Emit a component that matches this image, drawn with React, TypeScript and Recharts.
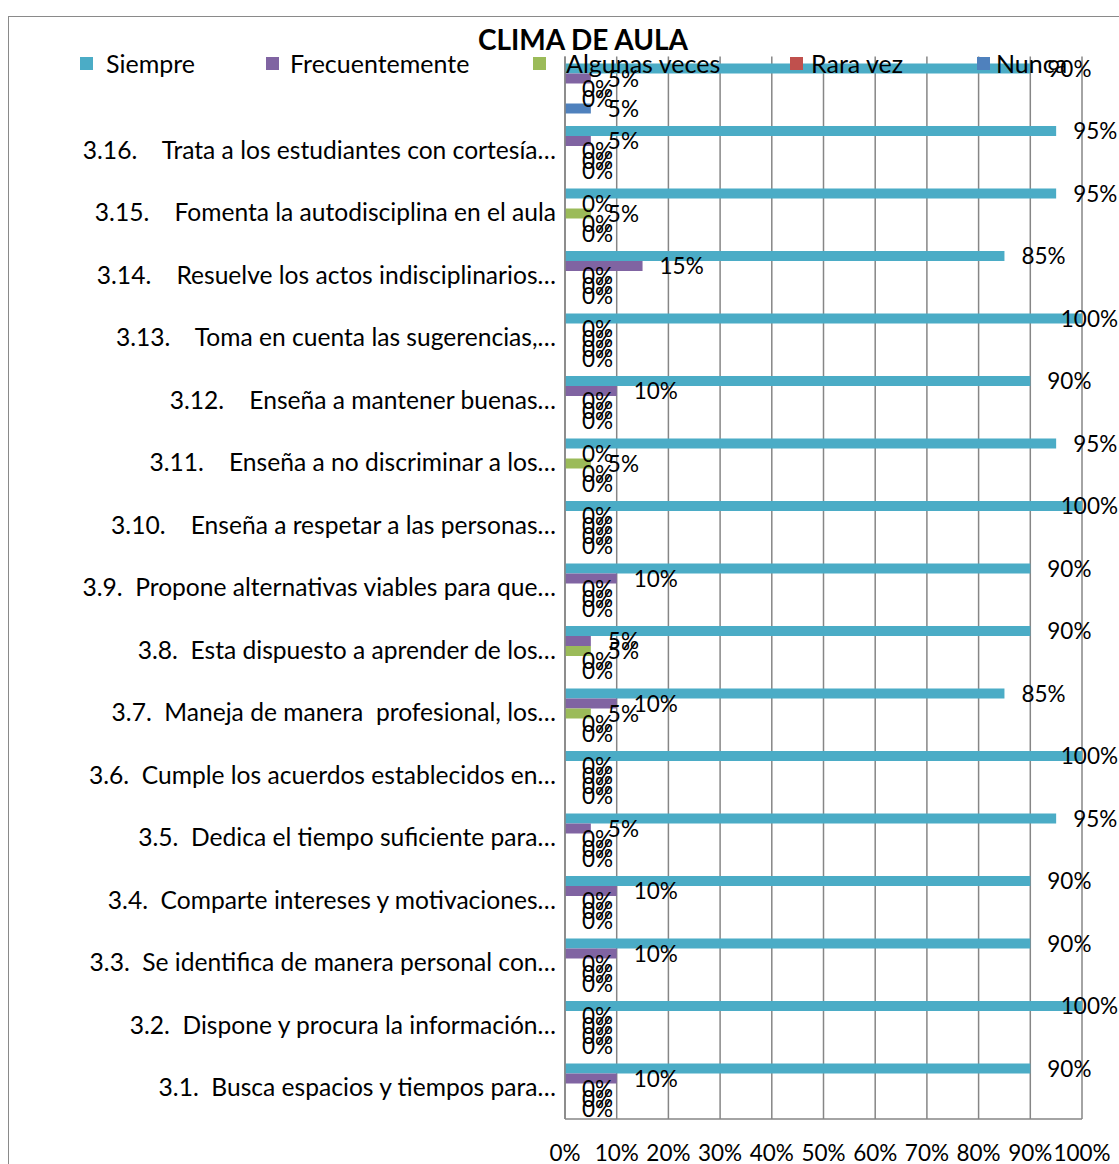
import React from "react";
import { BarChart, Bar, XAxis, YAxis, CartesianGrid, LabelList } from "recharts";

const categories = [
  "",
  "3.16.    Trata a los estudiantes con cortesía…",
  "3.15.    Fomenta la autodisciplina en el aula",
  "3.14.    Resuelve los actos indisciplinarios…",
  "3.13.    Toma en cuenta las sugerencias,…",
  "3.12.    Enseña a mantener buenas…",
  "3.11.    Enseña a no discriminar a los…",
  "3.10.    Enseña a respetar a las personas…",
  "3.9.  Propone alternativas viables para que…",
  "3.8.  Esta dispuesto a aprender de los…",
  "3.7.  Maneja de manera  profesional, los…",
  "3.6.  Cumple los acuerdos establecidos en…",
  "3.5.  Dedica el tiempo suficiente para…",
  "3.4.  Comparte intereses y motivaciones…",
  "3.3.  Se identifica de manera personal con…",
  "3.2.  Dispone y procura la información…",
  "3.1.  Busca espacios y tiempos para…",
];

const siempre = [90, 95, 95, 85, 100, 90, 95, 100, 90, 90, 85, 100, 95, 90, 90, 100, 90];
const frecuentemente = [5, 5, 0, 15, 0, 10, 0, 0, 10, 5, 10, 0, 5, 10, 10, 0, 10];
const algunasVeces = [0, 0, 5, 0, 0, 0, 5, 0, 0, 5, 5, 0, 0, 0, 0, 0, 0];
const raraVez = [0, 0, 0, 0, 0, 0, 0, 0, 0, 0, 0, 0, 0, 0, 0, 0, 0];
const nunca = [5, 0, 0, 0, 0, 0, 0, 0, 0, 0, 0, 0, 0, 0, 0, 0, 0];

const xTicks = [0, 10, 20, 30, 40, 50, 60, 70, 80, 90, 100];

const seriesDefs = [
  { key: "siempre", name: "Siempre", color: "#4BACC6" },
  { key: "frecuentemente", name: "Frecuentemente", color: "#8064A2" },
  { key: "algunas", name: "Algunas veces", color: "#9BBB59" },
  { key: "rara", name: "Rara vez", color: "#C0504D" },
  { key: "nunca", name: "Nunca", color: "#4F81BD" },
];

const data = categories.map((c, i) => ({
  cat: c,
  idx: String(i),
  siempre: siempre[i],
  frecuentemente: frecuentemente[i],
  algunas: algunasVeces[i],
  rara: raraVez[i],
  nunca: nunca[i],
}));

const FONT = "Lato, 'Open Sans', sans-serif";
const FS = 22.5;
const CAT_FS = 24.6;
const CHART_W = 1119;

const CatTick = (props: any) => {
  const { x, y, payload } = props;
  const label = categories[Number(payload.value)];
  return (
    <text
      x={x}
      y={y}
      dy={8.5}
      textAnchor="end"
      fontFamily={FONT}
      fontSize={CAT_FS}
      fill="#000"
      style={{ whiteSpace: "pre" }}
      xmlSpace="preserve"
    >
      {label}
    </text>
  );
};

const ValueLabel = (props: any) => {
  const { x, y, width, height, value } = props;
  const w = Math.max(0, Number(width));
  const text = `${value}%`;
  const estWidth = text.length * FS * 0.58;
  let px = Number(x) + w + 17;
  let anchor: "start" | "end" = "start";
  if (px + estWidth > CHART_W - 1) {
    px = CHART_W - 1;
    anchor = "end";
  }
  const py = Number(y) + Number(height) / 2;
  return (
    <text x={px} y={py} dy={8} textAnchor={anchor} fontFamily={FONT} fontSize={FS} fill="#000">
      {text}
    </text>
  );
};

const legendWidths = [186, 267, 257, 187, 120];
const legendGaps = [13, 11, 20, 8, 6];

export default function App() {
  return (
    <div style={{ position: "absolute", left: 0, top: 0, width: CHART_W, height: 1164, background: "#fff", overflow: "hidden" }}>
      <div
        style={{
          position: "absolute",
          left: 8,
          top: 16,
          width: 1200,
          height: 1200,
          borderLeft: "1.5px solid #8a8a8a",
          borderTop: "1.5px solid #8a8a8a",
        }}
      />
      <div style={{ position: "absolute", left: 0, top: 0 }}>
        <BarChart
          width={CHART_W}
          height={1164}
          data={data}
          layout="vertical"
          margin={{ top: 56.5, right: 37, bottom: 15, left: 0 }}
          barCategoryGap={7}
          barGap={0}
        >
          <CartesianGrid horizontal={false} vertical={true} stroke="#868686" strokeWidth={1.5} />
          <XAxis
            type="number"
            domain={[0, 100]}
            ticks={xTicks}
            height={30}
            tickFormatter={(v: number) => `${v}%`}
            axisLine={{ stroke: "#868686", strokeWidth: 1.5 }}
            tickLine={false}
            tickMargin={20}
            tick={{ fontFamily: FONT, fontSize: FS, fill: "#000" }}
            interval={0}
          />
          <YAxis
            type="category"
            dataKey="idx"
            width={565}
            axisLine={{ stroke: "#868686", strokeWidth: 1.5 }}
            tickLine={false}
            tick={<CatTick />}
            tickMargin={3}
            interval={0}
          />
          {seriesDefs.map((s) => (
            <Bar
              key={s.key}
              dataKey={s.key}
              name={s.name}
              fill={s.color}
              minPointSize={0.01}
              isAnimationActive={false}
            >
              <LabelList dataKey={s.key} content={<ValueLabel />} />
            </Bar>
          ))}
        </BarChart>
      </div>
      <div
        style={{
          position: "absolute",
          left: 0,
          top: 23,
          width: 1166,
          textAlign: "center",
          fontFamily: FONT,
          fontWeight: "bold",
          fontSize: 28,
          color: "#000",
          lineHeight: "32px",
        }}
      >
        CLIMA DE AULA
      </div>
      <div
        style={{
          position: "absolute",
          left: 80,
          top: 49,
          display: "flex",
          alignItems: "center",
          fontFamily: FONT,
          fontSize: 25,
          color: "#000",
          lineHeight: "28px",
          whiteSpace: "nowrap",
        }}
      >
        {seriesDefs.map((s, i) => (
          <div key={s.key} style={{ width: legendWidths[i], display: "flex", alignItems: "center" }}>
            <span
              style={{
                display: "inline-block",
                width: 13,
                height: 13,
                background: s.color,
                marginRight: legendGaps[i],
                flexShrink: 0,
              }}
            />
            <span>{s.name}</span>
          </div>
        ))}
      </div>
    </div>
  );
}
